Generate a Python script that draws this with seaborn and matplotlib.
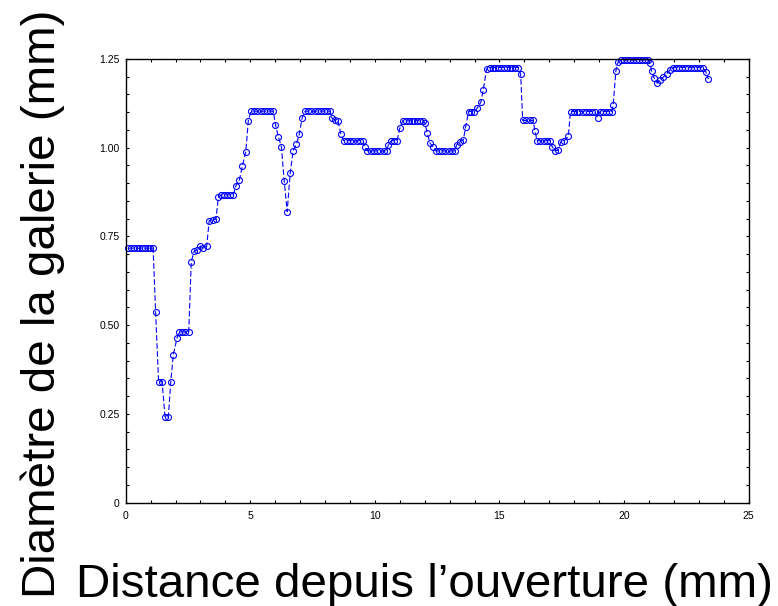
import matplotlib
matplotlib.use("Agg")
import matplotlib.pyplot as plt
import seaborn as sns
import pandas as pd
from matplotlib.ticker import MultipleLocator, FixedLocator, FixedFormatter

# Distance from the opening (mm)
distance = [
    0.10, 0.21, 0.32, 0.44, 0.55, 0.66, 0.77, 0.88, 0.99, 1.10,
    1.20, 1.32, 1.46, 1.58, 1.71, 1.81, 1.91, 2.06, 2.15, 2.27, 2.39, 2.53,
    2.63, 2.74, 2.88, 3.00, 3.11, 3.25, 3.35, 3.49, 3.62,
    3.72, 3.84, 3.96, 4.08, 4.20, 4.32,
    4.42, 4.56, 4.68, 4.82, 4.92,
    5.03, 5.16, 5.28, 5.41, 5.54, 5.67, 5.79, 5.92,
    6.01, 6.13, 6.25, 6.36, 6.48, 6.60, 6.72, 6.85, 6.97, 7.08,
    7.20, 7.33, 7.45, 7.58, 7.70, 7.83, 7.95, 8.08, 8.20,
    8.27, 8.40, 8.52, 8.63,
    8.74, 8.87, 9.00, 9.14, 9.27, 9.40, 9.53,
    9.60,
    9.70, 9.83, 9.96, 10.09, 10.22, 10.35, 10.47,
    10.54,
    10.66, 10.77, 10.89,
    11.00,
    11.11, 11.23, 11.35, 11.47, 11.58, 11.70, 11.82, 11.94,
    12.01, 12.10, 12.21, 12.34,
    12.45, 12.58, 12.70, 12.83, 12.96, 13.08, 13.21,
    13.28, 13.41, 13.55, 13.64,
    13.76, 13.87, 13.98,
    14.10, 14.25, 14.35, 14.48,
    14.60, 14.72, 14.83, 14.95, 15.06, 15.18, 15.29, 15.41, 15.52, 15.64, 15.75,
    15.85,
    15.93, 16.07, 16.21, 16.35,
    16.42,
    16.51, 16.64, 16.77, 16.90, 17.03,
    17.12, 17.23, 17.35, 17.46, 17.60, 17.76,
    17.85, 17.97, 18.09, 18.21, 18.34, 18.46, 18.58, 18.70, 18.82,
    18.94,
    19.03, 19.15, 19.27, 19.38, 19.50,
    19.56, 19.67, 19.76,
    19.88, 20.00, 20.12, 20.24, 20.36, 20.49, 20.61, 20.73, 20.85, 20.97,
    21.03, 21.10, 21.21, 21.33, 21.44, 21.58, 21.71, 21.83,
    21.95, 22.07, 22.19, 22.31, 22.43, 22.55, 22.67, 22.79, 22.91, 23.03, 23.15,
    23.28, 23.38,
]

# Gallery diameter (mm)
diameter = [
    0.717, 0.717, 0.717, 0.717, 0.717, 0.717, 0.717, 0.717, 0.717, 0.717,
    0.537, 0.341, 0.341, 0.241, 0.241, 0.341, 0.417, 0.464, 0.481, 0.481, 0.481, 0.481,
    0.678, 0.708, 0.712, 0.723, 0.717, 0.722, 0.795, 0.797, 0.799,
    0.861, 0.867, 0.867, 0.867, 0.867, 0.867,
    0.893, 0.908, 0.948, 0.989, 1.076,
    1.103, 1.103, 1.103, 1.103, 1.103, 1.103, 1.103, 1.103,
    1.065, 1.030, 1.002, 0.907, 0.820, 0.928, 0.991, 1.010, 1.039, 1.084,
    1.103, 1.103, 1.103, 1.103, 1.103, 1.103, 1.103, 1.103, 1.103,
    1.084, 1.078, 1.075, 1.040,
    1.020, 1.020, 1.020, 1.020, 1.020, 1.020, 1.020,
    1.002,
    0.991, 0.991, 0.991, 0.991, 0.991, 0.991, 0.991,
    1.008,
    1.020, 1.020, 1.020,
    1.055,
    1.076, 1.076, 1.076, 1.076, 1.076, 1.076, 1.076, 1.076,
    1.069, 1.041, 1.013, 1.002,
    0.991, 0.991, 0.991, 0.991, 0.991, 0.991, 0.991,
    1.008, 1.017, 1.022, 1.058,
    1.102, 1.102, 1.102,
    1.111, 1.128, 1.163, 1.222,
    1.226, 1.226, 1.226, 1.226, 1.226, 1.226, 1.226, 1.226, 1.226, 1.226, 1.226,
    1.207,
    1.077, 1.077, 1.077, 1.077,
    1.048,
    1.020, 1.020, 1.020, 1.020, 1.020,
    1.002, 0.991, 0.993, 1.017, 1.020, 1.032,
    1.102, 1.102, 1.102, 1.102, 1.102, 1.102, 1.102, 1.102, 1.102,
    1.085,
    1.102, 1.102, 1.102, 1.102, 1.102,
    1.119, 1.217, 1.242,
    1.247, 1.247, 1.247, 1.247, 1.247, 1.247, 1.247, 1.247, 1.247, 1.247,
    1.240, 1.217, 1.196, 1.182, 1.191, 1.200, 1.208, 1.219,
    1.226, 1.226, 1.226, 1.226, 1.226, 1.226, 1.226, 1.226, 1.226, 1.226, 1.226,
    1.214, 1.193,
]

x_ticks = [0, 5, 10, 15, 20, 25]
x_tick_labels = ["0", "5", "10", "15", "20", "25"]
y_ticks = [0, 0.25, 0.50, 0.75, 1.00, 1.25]
y_tick_labels = ["0", "0.25", "0.50", "0.75", "1.00", "1.25"]

x_label = "Distance depuis l\u2019ouverture (mm)"
y_label = "Diamètre de la galerie (mm)"

sns.set_style("ticks")
plt.rcParams["font.family"] = ["Liberation Sans", "DejaVu Sans"]
plt.rcParams["text.color"] = "black"
plt.rcParams["xtick.color"] = "black"
plt.rcParams["ytick.color"] = "black"

df = pd.DataFrame({"distance": distance, "diameter": diameter})

fig = plt.figure(figsize=(7.78, 6.06), dpi=100)
ax = fig.add_axes([125.7 / 778, 1 - 502.7 / 606, (748.7 - 125.7) / 778, (502.7 - 59) / 606])

sns.lineplot(
    data=df, x="distance", y="diameter", ax=ax,
    sort=False, estimator=None,
    color="#0000ff", linewidth=0.8,
    linestyle=(0, (5, 2.2)),
    marker="o", markersize=4.3,
    markerfacecolor="none", markeredgecolor="#0000ff", markeredgewidth=0.8,
    clip_on=False,
)

ax.set_xlim(0, 25)
ax.set_ylim(0, 1.25)
ax.xaxis.set_major_locator(FixedLocator(x_ticks))
ax.xaxis.set_major_formatter(FixedFormatter(x_tick_labels))
ax.yaxis.set_major_locator(FixedLocator(y_ticks))
ax.yaxis.set_major_formatter(FixedFormatter(y_tick_labels))
ax.xaxis.set_minor_locator(MultipleLocator(1))
ax.yaxis.set_minor_locator(MultipleLocator(0.05))

ax.tick_params(axis="both", which="both", direction="in", top=True, right=True,
               colors="black", labelcolor="black", width=0.8)
ax.tick_params(axis="both", which="major", length=2.5, labelsize=7.5)
ax.tick_params(axis="both", which="minor", length=2.0)
ax.tick_params(axis="x", which="major", pad=6.0)
ax.tick_params(axis="y", which="major", pad=4.5)
for s in ax.spines.values():
    s.set_visible(True)
    s.set_linewidth(1.0)
    s.set_color("black")

ax.set_xlabel("")
ax.set_ylabel("")

fig.text(424.5 / 778, 9 / 606, x_label, fontsize=34.2, ha="center", va="baseline",
         color="black")
fig.text(55 / 778, 1 - 304 / 606, y_label, fontsize=34.2, rotation=90,
         rotation_mode="anchor", ha="center", va="baseline", color="black")

fig.savefig("out.png", dpi=100)
